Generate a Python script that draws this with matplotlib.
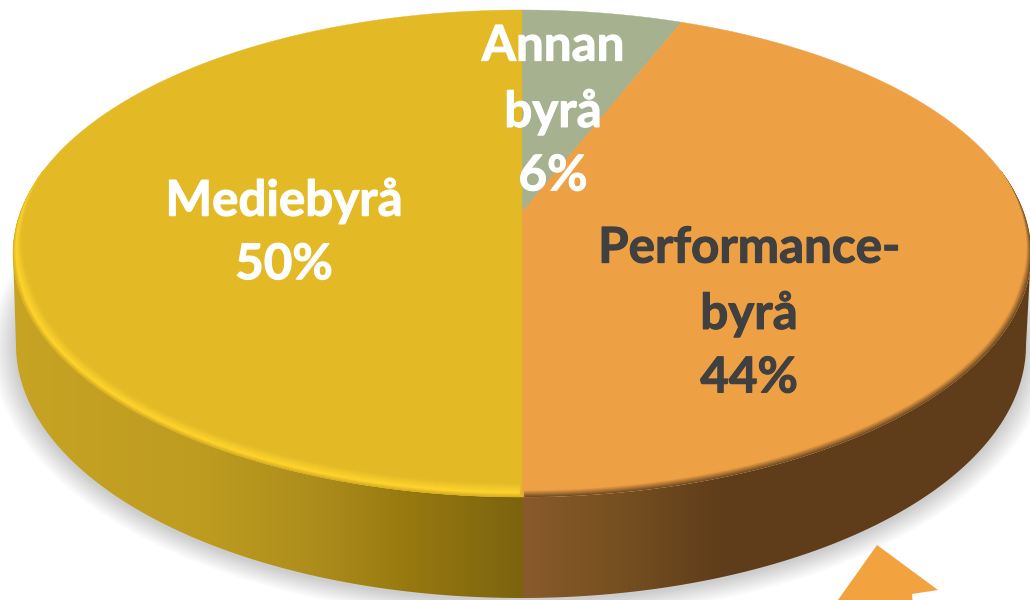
#!/usr/bin/env python3

import matplotlib
matplotlib.use('Agg')
import matplotlib.pyplot as plt
import matplotlib.patheffects as pe
from matplotlib.patches import Polygon
from matplotlib.colors import LinearSegmentedColormap
import numpy as np

labels = ['Annan\nbyrå\n6%', 'Performance-\nbyrå\n44%', 'Mediebyrå\n50%']
shares = [6, 44, 50]
colors = ['#A5B18F', '#EEA045', '#E3BA26']
text_colors = ['white', '#404040', 'white']
text_pos = [(553, 111), (749, 313), (284, 232)]

# pixel geometry of the tilted disc
CX, TOP, BOTTOM, APEX = 522, 10, 497, 212
RX, CY_TOP, RY_TOP = 509, 253.5, 243.5
CY_LOW, RX_LOW, RY_LOW = 345, 505, 253

c = (BOTTOM + TOP - 2 * APEX) / (BOTTOM - TOP)
a = TOP * c + TOP - APEX
rp = RX * np.sqrt(1 - c * c)


def project(theta):
    # clockwise angle from 12 o'clock on the disc to pixels
    u, v = np.sin(theta), np.cos(theta)
    d = c * v + 1
    return CX + rp * u / d, (a * v + APEX) / d


def arc(cx, cy, rx, ry, t0, t1, n=200):
    t = np.radians(np.linspace(t0, t1, n))
    return cx + rx * np.cos(t), cy + ry * np.sin(t)


def rim(t, t0, t1, fade_from, fade_to):
    # ring at inset t that closes onto the edge between fade_from and fade_to
    ang = np.linspace(t0, t1, 400)
    scale = np.clip((ang - fade_to) / (fade_from - fade_to), 0, 1)
    x = CX + (RX - 0.6 - t * scale) * np.cos(np.radians(ang))
    y = CY_TOP + (RY_TOP - 0.6 - t * scale) * np.sin(np.radians(ang))
    return x, y


def mix(c0, c1, f):
    c0 = np.array(matplotlib.colors.to_rgb(c0))
    c1 = np.array(matplotlib.colors.to_rgb(c1))
    return tuple(c0 + (c1 - c0) * f)


fig = plt.figure(figsize=(10.3, 6), dpi=100)
ax = fig.add_axes([0, 0, 1, 1])
ax.set_xlim(0, 1030)
ax.set_ylim(600, 0)
ax.axis('off')

# soft shadow
for k in range(1, 26):
    x, y = arc(CX - 1, CY_LOW + 2, RX_LOW + k, RY_LOW + k * 0.8, 0, 360)
    ax.add_patch(Polygon(np.c_[x, y], fc='black', ec='none', alpha=0.009, zorder=1))

# side wall
x0, y0 = arc(CX, CY_TOP, RX, RY_TOP, 180, 0)
x1, y1 = arc(CX - 1, CY_LOW, RX_LOW, RY_LOW, 0, 180)
side = Polygon(np.r_[np.c_[x0, y0], np.c_[x1, y1]], closed=True, fc='none', ec='none')
ax.add_patch(side)
side_cmap = LinearSegmentedColormap.from_list('side', [
    (0.0, '#C8A424'), (0.195, '#BE9C20'), (0.30, '#AE8E1C'), (0.40, '#96780F'),
    (0.506, '#7C6410'), (0.507, '#8A5A2C'), (0.60, '#765020'), (0.70, '#603D1B'), (1.0, '#5F3D1B')])
grad = np.linspace(0, 1, 1030)[None, :]
im = ax.imshow(grad, extent=(0, 1030, 600, 0), aspect='auto', cmap=side_cmap, zorder=2)
im.set_clip_path(side)
ax.set_xlim(0, 1030)
ax.set_ylim(600, 0)

# top face, slices start at 12 o'clock and run clockwise
start = 0.0
for share, col in zip(shares, colors):
    end = start + share / sum(shares) * 2 * np.pi
    x, y = project(np.linspace(start, end, 300))
    pts = np.r_[[[CX, APEX]], np.c_[x, y]]
    ax.add_patch(Polygon(pts, fc=col, ec=col, lw=0.3, zorder=3))
    start = end

# bevel on the rim
for t in np.arange(0, 14, 0.5):
    f = t / 14
    if f < 0.3:
        col = mix('#D8AE22', '#FFD42D', f / 0.3)
    else:
        col = mix('#FFD42D', colors[2], (f - 0.3) / 0.7)
    # angles grow clockwise on screen here since y points down
    x, y = rim(t, 90, 200, 172, 200)
    ax.plot(x[x < CX], y[x < CX], color=col, lw=1.0, zorder=4, solid_capstyle='butt')
for t in np.arange(0, 10, 0.5):
    f = t / 10
    x, y = rim(t, 90, -20, 8, -20)
    ax.plot(x[x > CX], y[x > CX], color=mix('#6E4A22', colors[1], min(f * 1.5, 1)), lw=1.0,
            zorder=4, solid_capstyle='butt')

# arrow cut by the bottom edge
arrow = [(877, 545), (938, 590), (912, 594), (912.5, 600), (838, 600)]
ax.add_patch(Polygon(arrow, fc='#F2A340', ec='none', zorder=5))

for lab, pos, col in zip(labels, text_pos, text_colors):
    ax.text(pos[0], pos[1], lab, color=col, ha='center', va='center', family='Lato',
            weight='bold', fontsize=35.5, linespacing=1.5, zorder=6,
            path_effects=[pe.withStroke(linewidth=0.8, foreground=col)])

fig.savefig('out.png', dpi=100)
